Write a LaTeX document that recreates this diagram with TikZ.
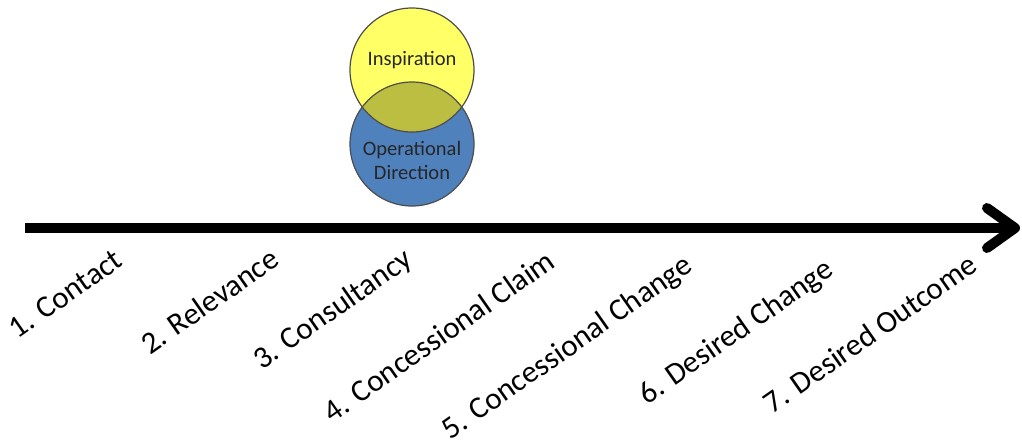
\documentclass[tikz,border=0pt]{standalone}
\usepackage{fontspec}
\setmainfont{Carlito}
\usepackage{xcolor}
\usepackage{tikz}
\usetikzlibrary{arrows.meta,positioning}
\definecolor{venyellow}{RGB}{255,255,102}
\definecolor{venblue}{RGB}{79,129,189}
\definecolor{venolive}{RGB}{188,190,66}
\tikzset{
  ring/.style={draw=black!70, line width=1.2pt},
  stage/.style={rotate=35, anchor=north east, inner sep=0pt, font=\fontsize{31}{36}\selectfont},
  blabel/.style={align=center, inner sep=0pt, text=black!85, font=\fontsize{20.5}{24}\selectfont}
}

\begin{document}
\begin{tikzpicture}[x=1pt,y=-1pt]
    \useasboundingbox (0,0) rectangle (1022,439);
    \coordinate (S) at (25,228);
    \coordinate (E) at (1020,228);
    \draw[line width=10pt, -{Straight Barb[length=28pt,width=40pt,round]}] (S) -- (E);
    \coordinate (yc) at (412,70);
    \coordinate (bc) at (412,144);
    \fill[venblue] (bc) circle (62);
    \fill[venyellow] (yc) circle (62);
    \begin{scope}
      \clip (yc) circle (62);
      \fill[venolive] (bc) circle (62);
    \end{scope}
    \draw[ring] (yc) circle (62);
    \draw[ring] (bc) circle (62);
    \node (insp) [blabel] at (412,60) {Inspiration};
    \node (oper) [blabel] at (412,160) {Operational\\Direction};
    \node (c1) [stage] at (113,248) {1. Contact};
    \node (c2) [stage] at (269,246) {2. Relevance};
    \node (c3) [stage] at (402,246) {3. Consultancy};
    \node (c4) [stage] at (545,248) {4. Concessional Claim};
    \node (c5) [stage] at (682,252) {5. Concessional Change};
    \node (c6) [stage] at (823,256) {6. Desired Change};
    \node (c7) [stage] at (967,252) {7. Desired Outcome};
\end{tikzpicture}
\end{document}
